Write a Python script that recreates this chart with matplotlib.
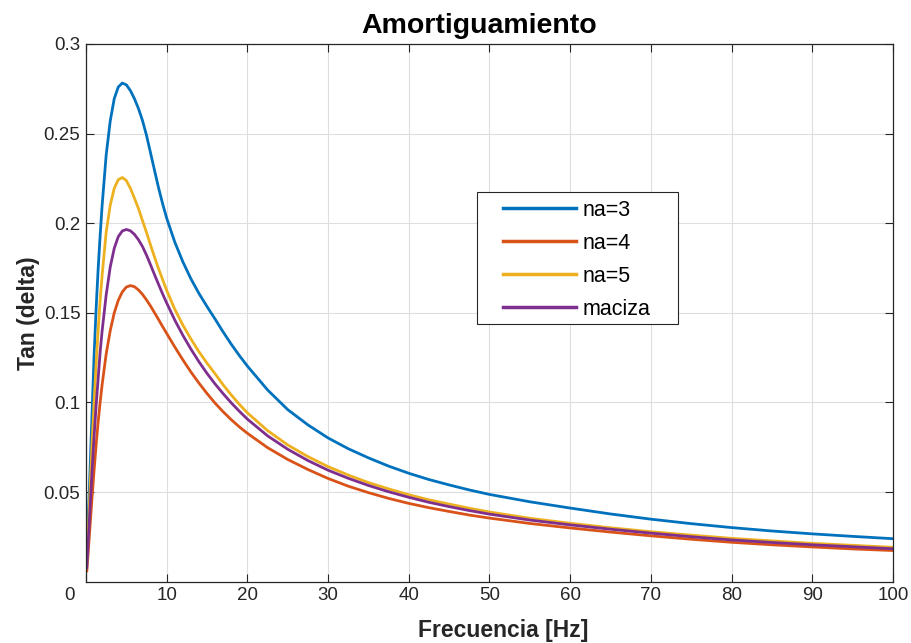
import numpy as np
import matplotlib
matplotlib.use("Agg")
import matplotlib.pyplot as plt
import matplotlib.transforms as mtransforms
from matplotlib.patches import Rectangle

# ================================
# DATA
# ================================
freq = [0.1, 0.25, 0.5, 0.75, 1, 1.25, 1.5, 1.75, 2, 2.5, 3, 3.5, 4, 4.5, 5,
        5.5, 6, 6.5, 7, 7.5, 8, 8.5, 9, 9.5, 10, 11, 12, 13, 14, 15, 16, 17,
        18, 19, 20, 22.5, 25, 27.5, 30, 32.5, 35, 37.5, 40, 42.5, 45, 47.5,
        50, 55, 60, 65, 70, 75, 80, 85, 90, 95, 100]

tan_na3 = [0.012, 0.031, 0.062, 0.094, 0.126, 0.152, 0.174, 0.193, 0.210, 0.238,
           0.257, 0.2695, 0.276, 0.2782, 0.2772, 0.2740, 0.2695, 0.2640, 0.2573,
           0.2490, 0.2392, 0.2293, 0.2196, 0.2108, 0.2028, 0.1895, 0.1785,
           0.1690, 0.1608, 0.1535, 0.1465, 0.1393, 0.1325, 0.1262, 0.1203,
           0.1070, 0.0960, 0.0875, 0.0802, 0.0742, 0.0691, 0.0645, 0.0605,
           0.0570, 0.0540, 0.0512, 0.0487, 0.0446, 0.0411, 0.0378, 0.0349,
           0.0324, 0.0302, 0.0283, 0.0267, 0.0253, 0.0240]

tan_na4 = [0.006, 0.015, 0.031, 0.047, 0.062, 0.076, 0.089, 0.100, 0.110, 0.127,
           0.140, 0.150, 0.157, 0.1617, 0.1644, 0.1652, 0.1646, 0.1628, 0.1603,
           0.1572, 0.1538, 0.1500, 0.1462, 0.1423, 0.1385, 0.1310, 0.1238,
           0.1170, 0.1108, 0.1050, 0.0996, 0.0948, 0.0904, 0.0864, 0.0828,
           0.0748, 0.0682, 0.0626, 0.0576, 0.0533, 0.0497, 0.0465, 0.0437,
           0.0413, 0.0392, 0.0372, 0.0355, 0.0325, 0.0300, 0.0277, 0.0256,
           0.0237, 0.0220, 0.0206, 0.0194, 0.0183, 0.0174]

tan_na5 = [0.010, 0.025, 0.051, 0.077, 0.100, 0.121, 0.140, 0.157, 0.171, 0.195,
           0.210, 0.2195, 0.2243, 0.2255, 0.2238, 0.2195, 0.2140, 0.2082, 0.2015,
           0.1948, 0.1878, 0.1810, 0.1745, 0.1685, 0.1625, 0.1520, 0.1432,
           0.1354, 0.1283, 0.1219, 0.1160, 0.1098, 0.1042, 0.0990, 0.0942,
           0.0843, 0.0763, 0.0698, 0.0642, 0.0595, 0.0553, 0.0518, 0.0485,
           0.0457, 0.0433, 0.0410, 0.0389, 0.0354, 0.0326, 0.0301, 0.0279,
           0.0260, 0.0242, 0.0228, 0.0214, 0.0203, 0.0192]

tan_maciza = [0.008, 0.020, 0.041, 0.062, 0.081, 0.098, 0.113, 0.128, 0.140, 0.160,
              0.1755, 0.1860, 0.1925, 0.1957, 0.1965, 0.1958, 0.1938, 0.1908, 0.1870,
              0.1822, 0.1768, 0.1712, 0.1658, 0.1605, 0.1555, 0.1460, 0.1375,
              0.1298, 0.1227, 0.1162, 0.1103, 0.1049, 0.0998, 0.0951, 0.0907,
              0.0814, 0.0739, 0.0676, 0.0622, 0.0577, 0.0537, 0.0502, 0.0471,
              0.0443, 0.0419, 0.0397, 0.0377, 0.0344, 0.0317, 0.0293, 0.0271,
              0.0251, 0.0233, 0.0219, 0.0206, 0.0195, 0.0184]

labels = ["na=3", "na=4", "na=5", "maciza"]
colors = ["#0072BD", "#D95319", "#EDB120", "#7E2F8E"]

x_ticks = [0, 10, 20, 30, 40, 50, 60, 70, 80, 90, 100]
y_ticks = [0.05, 0.1, 0.15, 0.2, 0.25, 0.3]
y_tick_labels = ["0.05", "0.1", "0.15", "0.2", "0.25", "0.3"]

# ================================
# PLOT
# ================================
plt.rcParams['font.family'] = ['Liberation Sans', 'DejaVu Sans']

fig = plt.figure(figsize=(9.11, 6.43), dpi=100)
ax = fig.add_axes([0.0944, 0.0953, 0.8858, 0.8363])

for series, lab, col in zip([tan_na3, tan_na4, tan_na5, tan_maciza], labels, colors):
    ax.plot(freq, series, color=col, linewidth=2.0, label=lab)

ax.set_xlim(0, 100)
ax.set_ylim(0, 0.3)
ax.set_xticks(x_ticks)
ax.set_yticks(y_ticks)
ax.set_yticklabels(y_tick_labels)

ax.grid(True, color="#dedede", linewidth=0.8)
ax.set_axisbelow(True)
ax.tick_params(direction="in", length=6, width=0.8, top=True, right=True,
               labelsize=13.5, colors="#262626", pad=4)
for sp in ax.spines.values():
    sp.set_color("#262626")
    sp.set_linewidth(0.9)

# MATLAB-like shift of the "0" x tick label
offset = mtransforms.ScaledTranslation(-0.16, 0, fig.dpi_scale_trans)
lbl0 = ax.get_xticklabels()[0]
lbl0.set_transform(lbl0.get_transform() + offset)

ax.set_title("Amortiguamiento", fontsize=20.5, fontweight="bold", color="black",
             pad=8, x=0.4876)
ax.set_xlabel("Frecuencia [Hz]", fontsize=16.5, fontweight="bold", color="#262626")
ax.xaxis.set_label_coords(0.5167, -0.09)
ax.xaxis.label.set_verticalalignment("center")
ax.set_ylabel("Tan (delta)", fontsize=16.5, fontweight="bold", color="#262626", labelpad=2.5)

# legend box drawn by hand (MATLAB style wide padding)
box = Rectangle((477 / 911, 1 - 324 / 643), 201 / 911, 132 / 643,
                transform=fig.transFigure, facecolor="white", edgecolor="#262626",
                linewidth=0.8, zorder=4, clip_on=False)
ax.add_patch(box)

leg = ax.legend(loc="upper left", bbox_to_anchor=(503 / 911, 1 - 200 / 643),
                bbox_transform=fig.transFigure, fontsize=15.5, frameon=False,
                handlelength=3.4, handletextpad=0.28, labelspacing=0.55,
                borderpad=0, borderaxespad=0)
leg.set_zorder(5)
for line in leg.get_lines():
    line.set_linewidth(2.5)

fig.savefig("out.png", dpi=100)
